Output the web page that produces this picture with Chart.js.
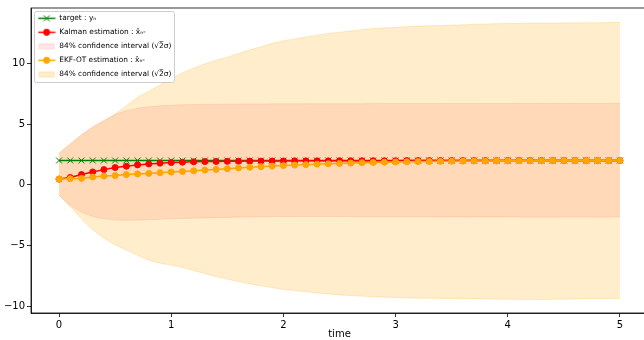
<!DOCTYPE html>
<html><head><meta charset="utf-8">
<script src="https://cdn.jsdelivr.net/npm/chart.js@4"></script>
<style>html,body{margin:0;padding:0;overflow:hidden;background:#fff;width:644px;height:340px}
#wrap{position:relative;width:660px;height:340px}</style>
</head><body><div id="wrap"><canvas id="c" width="660" height="340"></canvas></div>
<script>
const time = [0.0,0.1,0.2,0.3,0.4,0.5,0.6,0.7,0.8,0.9,1.0,1.1,1.2,1.3,1.4,1.5,1.6,1.7,1.8,1.9,2.0,2.1,2.2,2.3,2.4,2.5,2.6,2.7,2.8,2.9,3.0,3.1,3.2,3.3,3.4,3.5,3.6,3.7,3.8,3.9,4.0,4.1,4.2,4.3,4.4,4.5,4.6,4.7,4.8,4.9,5.0];
const target = [2,2,2,2,2,2,2,2,2,2,2,2,2,2,2,2,2,2,2,2,2,2,2,2,2,2,2,2,2,2,2,2,2,2,2,2,2,2,2,2,2,2,2,2,2,2,2,2,2,2,2];
const kalman = [0.47,0.60,0.85,1.06,1.25,1.42,1.53,1.64,1.72,1.78,1.83,1.86,1.89,1.91,1.92,1.93,1.94,1.95,1.95,1.96,1.96,1.97,1.97,1.97,1.97,1.98,1.98,1.98,1.98,1.98,1.98,1.99,1.99,1.99,1.99,1.99,1.99,1.99,1.99,1.99,2.00,2.00,2.00,2.00,2.00,2.00,2.00,2.00,2.00,2.00,2.00];
const kalmanUpper = [2.6,3.3,4.1,4.8,5.3,5.8,6.1,6.3,6.42,6.5,6.55,6.58,6.6,6.62,6.63,6.64,6.65,6.65,6.65,6.66,6.66,6.66,6.66,6.67,6.67,6.67,6.67,6.67,6.68,6.68,6.68,6.68,6.68,6.68,6.68,6.69,6.69,6.69,6.69,6.69,6.69,6.7,6.7,6.7,6.7,6.7,6.7,6.7,6.7,6.7,6.7];
const kalmanLower = [-0.85,-1.7,-2.25,-2.6,-2.8,-2.9,-2.92,-2.9,-2.87,-2.84,-2.8,-2.77,-2.74,-2.72,-2.7,-2.68,-2.66,-2.64,-2.63,-2.62,-2.62,-2.62,-2.62,-2.62,-2.62,-2.62,-2.62,-2.63,-2.63,-2.63,-2.63,-2.63,-2.63,-2.63,-2.64,-2.64,-2.64,-2.64,-2.64,-2.64,-2.64,-2.65,-2.65,-2.65,-2.65,-2.65,-2.65,-2.65,-2.65,-2.65,-2.65];
const ekf = [0.47,0.50,0.53,0.64,0.72,0.76,0.84,0.90,0.94,1.00,1.05,1.10,1.15,1.21,1.27,1.33,1.39,1.44,1.49,1.54,1.58,1.62,1.66,1.70,1.73,1.76,1.79,1.82,1.84,1.86,1.88,1.89,1.91,1.92,1.93,1.94,1.95,1.96,1.96,1.97,1.97,1.98,1.98,1.98,1.99,1.99,1.99,1.99,2.00,2.00,2.00];
const ekfUpper = [2.6,3.4,4.1,4.7,5.2,5.8,6.5,7.2,7.7,8.2,8.7,9.2,9.6,9.95,10.25,10.5,10.8,11.1,11.35,11.65,11.85,12.0,12.15,12.3,12.45,12.55,12.65,12.75,12.85,12.9,12.95,13.0,13.05,13.08,13.1,13.13,13.16,13.2,13.22,13.25,13.27,13.28,13.3,13.3,13.3,13.31,13.32,13.32,13.33,13.34,13.35];
const ekfLower = [-0.85,-1.8,-2.8,-3.7,-4.4,-4.95,-5.35,-5.8,-6.2,-6.45,-6.6,-6.8,-7.05,-7.3,-7.55,-7.75,-7.95,-8.15,-8.3,-8.45,-8.6,-8.7,-8.8,-8.9,-8.98,-9.05,-9.1,-9.15,-9.2,-9.24,-9.27,-9.3,-9.32,-9.33,-9.34,-9.36,-9.37,-9.38,-9.39,-9.4,-9.41,-9.42,-9.42,-9.42,-9.41,-9.4,-9.38,-9.37,-9.36,-9.35,-9.34];
const xTicks = [0,1,2,3,4,5];
const yTicks = [-10,-5,0,5,10];
const legendLabels = ['target : yₙ','Kalman estimation : x̂ₙ-','84% confidence interval (√2̅σ)','EKF-OT estimation : x̂ₙ-','84% confidence interval (√2̅σ)'];
const xTitle = 'time';

const pts = arr => time.map((t,i)=>({x:t,y:arr[i]}));
const FONT = "'DejaVu Sans', sans-serif";

function glyphLine(color, marker){
  const c=document.createElement('canvas'); c.width=18; c.height=9;
  const g=c.getContext('2d');
  g.strokeStyle=color; g.lineWidth=1.5;
  g.beginPath(); g.moveTo(0.5,4.5); g.lineTo(17.5,4.5); g.stroke();
  if(marker==='x'){ g.lineWidth=1; g.beginPath(); g.moveTo(6,1.5); g.lineTo(12,7.5); g.moveTo(12,1.5); g.lineTo(6,7.5); g.stroke(); }
  else { g.fillStyle=color; g.beginPath(); g.arc(9,4.5,3.4,0,Math.PI*2); g.fill(); }
  return c;
}
function glyphBox(fill, edge){
  const c=document.createElement('canvas'); c.width=18; c.height=9;
  const g=c.getContext('2d');
  g.fillStyle=fill; g.fillRect(1.5,2,15,5.2);
  g.strokeStyle=edge; g.lineWidth=1; g.strokeRect(1.5,2,15,5.2);
  return c;
}
const glyphs=[glyphLine('#008000','x'),glyphLine('#ff0000','o'),glyphBox('rgba(255,0,0,0.1)','rgba(255,0,0,0.1)'),glyphLine('#ffa500','o'),glyphBox('rgba(255,165,0,0.2)','rgba(255,165,0,0.2)')];

const framePlugin={
  id:'frame',
  afterLayout(chart){
    const lg=chart.legend, a=chart.chartArea;
    if(lg){ const h=lg.height; lg.top=a.top; lg.bottom=a.top+h; lg.left=a.left; }
  },
  afterDatasetsDraw(chart){
    const ctx=chart.ctx, a=chart.chartArea;
    ctx.save();
    ctx.strokeStyle='#000'; ctx.lineWidth=0.8;
    ctx.strokeRect(a.left,a.top,a.right-a.left,a.bottom-a.top);
    const lg=chart.legend;
    if(lg && lg.legendHitBoxes && lg.legendHitBoxes.length){
      const hb=lg.legendHitBoxes;
      let x0=Infinity,y0=Infinity,x1=-Infinity,y1=-Infinity;
      hb.forEach(h=>{x0=Math.min(x0,h.left);y0=Math.min(y0,h.top);x1=Math.max(x1,h.left+h.width);y1=Math.max(y1,h.top+h.height);});
      x0-=3.5; y0-=4; x1+=3; y1+=4;
      ctx.beginPath();
      ctx.roundRect(Math.round(x0)+0.5,Math.round(y0)+0.5,Math.round(x1-x0),Math.round(y1-y0),2);
      ctx.fillStyle='#fff'; ctx.fill();
      ctx.strokeStyle='#cccccc'; ctx.lineWidth=1; ctx.stroke();
      ctx.restore();
      lg.draw();
    } else ctx.restore();
  }
};

const lineDs=(label,arr,color,style,order,extra)=>Object.assign({label,data:pts(arr),borderColor:color,backgroundColor:color,borderWidth:1.5,pointStyle:style,pointRadius:3,pointBorderWidth:1,pointBorderColor:color,pointBackgroundColor:color,fill:false,tension:0,order},extra||{});
const bandDs=(label,arr,color,fill,order)=>({label,data:pts(arr),borderColor:color,backgroundColor:color,borderWidth:1,pointRadius:0,fill,tension:0,order});

new Chart(document.getElementById('c'),{
  type:'line',
  data:{datasets:[
    lineDs(legendLabels[0],target,'#008000','crossRot',3,{pointRadius:4.2,pointBackgroundColor:'transparent'}),
    lineDs(legendLabels[1],kalman,'#ff0000','circle',2),
    bandDs(legendLabels[2],kalmanUpper,'rgba(255,0,0,0.1)','+1',11),
    bandDs('kl',kalmanLower,'rgba(255,0,0,0.1)',false,11),
    lineDs(legendLabels[3],ekf,'#ffa500','circle',1),
    bandDs(legendLabels[4],ekfUpper,'rgba(255,165,0,0.2)','+1',10),
    bandDs('el',ekfLower,'rgba(255,165,0,0.2)',false,10)
  ]},
  options:{
    responsive:false, animation:false, devicePixelRatio:1,
    layout:{padding:{left:0,right:12,top:7,bottom:0}},
    scales:{
      x:{type:'linear',min:-0.25,max:5.25,
        afterBuildTicks:s=>{s.ticks=xTicks.map(v=>({value:v}));},
        afterFit:s=>{s.height=27;},
        grid:{drawOnChartArea:false,drawTicks:true,tickLength:4,tickWidth:0.8,tickColor:'#000'},
        border:{display:true,color:'#000',width:0.8},
        ticks:{padding:2,color:'#000',font:{family:FONT,size:10},maxRotation:0,callback:v=>String(v)},
        title:{display:true,text:xTitle,color:'#000',font:{family:FONT,size:10},padding:0}
      },
      y:{type:'linear',min:-10.54,max:14.54,
        afterBuildTicks:s=>{s.ticks=yTicks.map(v=>({value:v}));},
        afterFit:s=>{s.width=31;},
        grid:{drawOnChartArea:false,drawTicks:true,tickLength:4,tickWidth:0.8,tickColor:'#000'},
        border:{display:true,color:'#000',width:0.8},
        ticks:{padding:2,color:'#000',font:{family:FONT,size:10},callback:v=>String(v).replace('-','\u2212')}
      }
    },
    plugins:{
      tooltip:{enabled:false},
      legend:{display:true,position:'chartArea',align:'start',
        labels:{usePointStyle:true,pointStyleWidth:18,boxHeight:7.4,padding:6.6,color:'#000',font:{family:FONT,size:7.4},
          generateLabels:(chart)=>{
            const idx=[0,1,2,4,5];
            return idx.map((di,k)=>({text:legendLabels[k],pointStyle:glyphs[k],fillStyle:'transparent',strokeStyle:'transparent',lineWidth:0,hidden:false,datasetIndex:di,fontColor:'#000'}));
          }
        }
      }
    }
  },
  plugins:[framePlugin]
});
</script></body></html>
